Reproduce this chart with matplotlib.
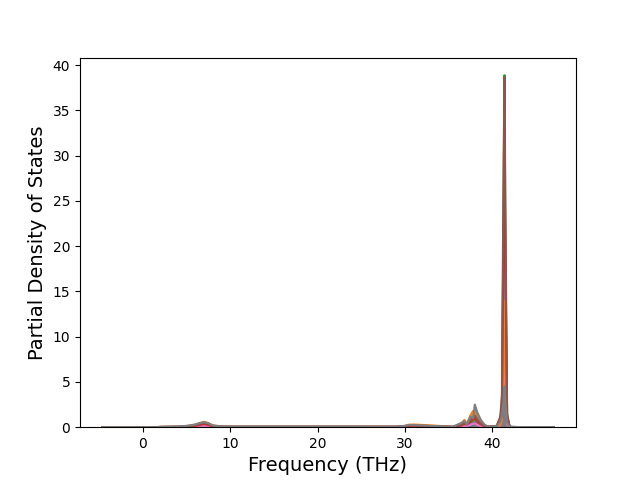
import matplotlib
matplotlib.use("Agg")
import matplotlib.pyplot as plt
import numpy as np

freq = [-4.6, 1.5, 2.0, 4.0, 5.0, 6.0, 6.5, 7.0, 7.5, 8.0, 9.0, 10.0, 13.0, 20.0, 24.0, 26.0, 29.0,
        30.0, 30.5, 31.0, 32.0, 33.0, 35.5, 36.5, 36.8, 37.1, 37.5, 37.8, 38.0, 38.3, 38.7, 39.1,
        39.5, 40.5, 40.9, 41.1, 41.3, 41.4, 41.5, 41.7, 42.0, 43.0, 47.0]

series = {
    "C0": [0, 0, 0.01, 0.02, 0.03, 0.05, 0.08, 0.1, 0.08, 0.04, 0.02, 0.01, 0.01, 0.01, 0.01, 0.01, 0.01,
           0.03, 0.04, 0.03, 0.03, 0.02, 0.02, 0.05, 0.1, 0.1, 0.2, 0.3, 0.4, 0.3, 0.15, 0.05,
           0.02, 0.03, 0.2, 0.8, 4.0, 6.0, 3.0, 0.4, 0.02, 0.01, 0],
    "C2": [0, 0, 0.02, 0.03, 0.06, 0.12, 0.2, 0.3, 0.2, 0.08, 0.04, 0.03, 0.03, 0.03, 0.03, 0.03, 0.03,
           0.08, 0.12, 0.12, 0.1, 0.08, 0.02, 0.15, 0.3, 0.2, 0.5, 0.7, 0.9, 0.6, 0.3, 0.1,
           0.03, 0.05, 0.5, 2.0, 25.0, 38.9, 20.0, 1.0, 0.03, 0.01, 0],
    "C4": [0, 0, 0.01, 0.02, 0.04, 0.08, 0.12, 0.18, 0.12, 0.05, 0.03, 0.02, 0.02, 0.02, 0.02, 0.02, 0.02,
           0.05, 0.08, 0.06, 0.05, 0.04, 0.02, 0.1, 0.2, 0.15, 0.3, 0.4, 0.5, 0.3, 0.15, 0.05,
           0.02, 0.04, 0.3, 1.2, 12.0, 20.0, 10.0, 0.5, 0.02, 0.01, 0],
    "C6": [0, 0, 0.01, 0.02, 0.03, 0.06, 0.1, 0.14, 0.1, 0.05, 0.02, 0.02, 0.02, 0.02, 0.02, 0.02, 0.02,
           0.04, 0.06, 0.05, 0.04, 0.03, 0.01, 0.08, 0.15, 0.1, 0.25, 0.35, 0.4, 0.25, 0.1, 0.05,
           0.02, 0.03, 0.2, 0.8, 6.0, 10.0, 5.0, 0.3, 0.02, 0.01, 0],
    "C1": [0, 0, 0.03, 0.05, 0.12, 0.28, 0.45, 0.6, 0.45, 0.2, 0.08, 0.05, 0.05, 0.05, 0.05, 0.05, 0.05,
           0.15, 0.28, 0.3, 0.25, 0.2, 0.05, 0.4, 0.8, 0.4, 1.3, 1.8, 1.6, 0.8, 0.4, 0.15,
           0.05, 0.05, 0.3, 1.0, 9.0, 14.0, 6.0, 0.6, 0.02, 0.01, 0],
    "C3": [0, 0, 0.02, 0.04, 0.08, 0.15, 0.25, 0.35, 0.25, 0.1, 0.05, 0.04, 0.04, 0.04, 0.04, 0.04, 0.04,
           0.08, 0.12, 0.1, 0.1, 0.08, 0.03, 0.2, 0.35, 0.3, 0.6, 0.9, 1.0, 0.6, 0.3, 0.1,
           0.04, 0.15, 1.1, 2.0, 22.0, 33.0, 18.0, 1.2, 0.03, 0.01, 0],
    "C5": [0, 0, 0.03, 0.05, 0.1, 0.2, 0.35, 0.5, 0.35, 0.15, 0.06, 0.05, 0.05, 0.05, 0.05, 0.05, 0.05,
           0.12, 0.2, 0.2, 0.15, 0.12, 0.04, 0.25, 0.5, 0.4, 0.8, 1.1, 1.3, 0.8, 0.4, 0.15,
           0.05, 0.1, 1.0, 3.5, 30.0, 38.7, 24.0, 1.5, 0.03, 0.01, 0],
    "C7": [0, 0, 0.05, 0.08, 0.15, 0.3, 0.45, 0.55, 0.45, 0.2, 0.1, 0.08, 0.08, 0.08, 0.08, 0.07, 0.07,
           0.15, 0.25, 0.22, 0.2, 0.15, 0.05, 0.5, 0.7, 0.3, 1.2, 1.0, 2.5, 1.6, 0.8, 0.3,
           0.08, 0.1, 0.6, 1.2, 3.0, 4.5, 2.5, 0.5, 0.05, 0.02, 0],
}

fig, ax = plt.subplots(figsize=(6.4, 4.8), dpi=100)
x = np.array(freq)
for color, vals in series.items():
    y = np.array(vals)
    ax.fill_between(x, 0, y, color=color, alpha=0.9, lw=0)
    ax.plot(x, y, color=color, lw=1.5)

ax.set_ylim(bottom=0)
ax.set_xlabel("Frequency (THz)", fontsize=14)
ax.set_ylabel("Partial Density of States", fontsize=14)
fig.savefig("out.png", dpi=100)
